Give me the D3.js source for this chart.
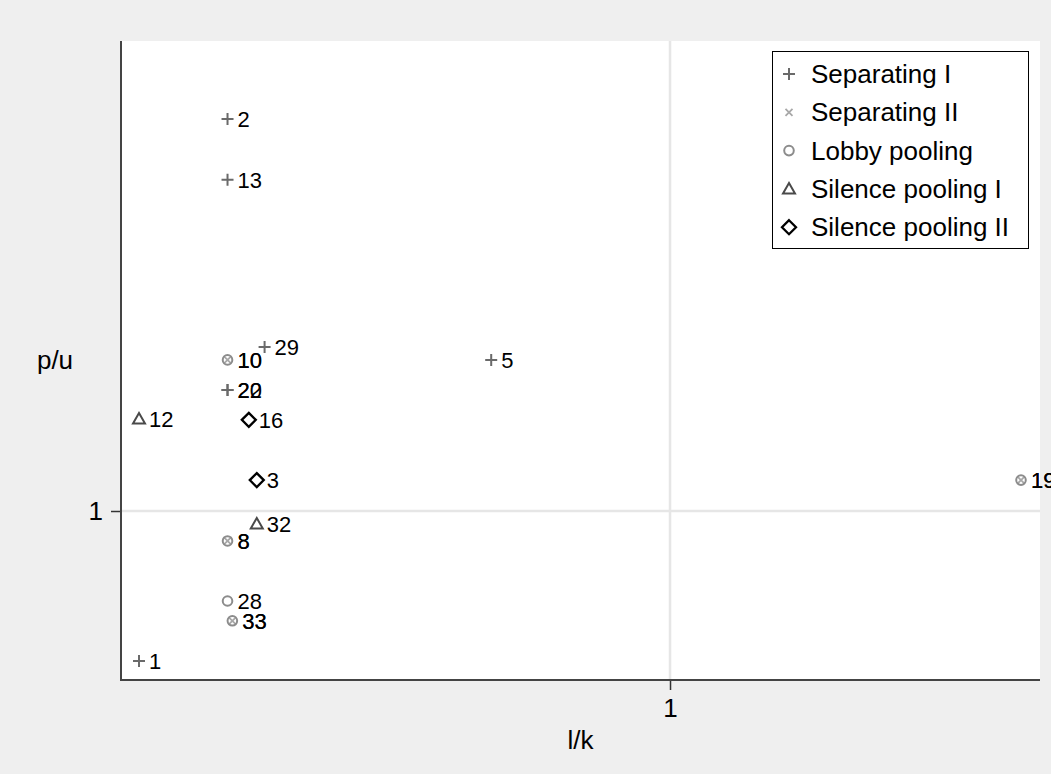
<!DOCTYPE html>
<html>
<head>
<meta charset="utf-8">
<script src="https://cdn.jsdelivr.net/npm/d3@7"></script>
<style>
  html, body { margin: 0; padding: 0; background: #efefef; }
  svg { display: block; font-family: "Liberation Sans", Arial, sans-serif; }
</style>
</head>
<body>
<svg id="chart" width="1051" height="774"></svg>
<script>
// Observations by equilibrium type: id label, l/k and p/u
const sepI_id = [2, 13, 29, 5, 20, 22, 1];
const sepI_x  = [0.315, 0.315, 0.347, 0.627, 0.315, 0.315, 0.25];
const sepI_y  = [3.80, 3.09, 1.748, 1.673, 1.51, 1.51, 0.60];

const sepII_id = [10, 19, 8, 33];
const sepII_x  = [0.315, 2.5, 0.315, 0.319];
const sepII_y  = [1.673, 1.111, 0.903, 0.688];

const lobby_id = [10, 19, 8, 28, 33];
const lobby_x  = [0.315, 2.5, 0.315, 0.315, 0.319];
const lobby_y  = [1.673, 1.111, 0.903, 0.736, 0.688];

const silI_id = [12, 32];
const silI_x  = [0.25, 0.340];
const silI_y  = [1.368, 0.957];

const silII_id = [16, 3];
const silII_x  = [0.333, 0.340];
const silII_y  = [1.364, 1.111];

const seriesNames = ["Separating I", "Separating II", "Lobby pooling", "Silence pooling I", "Silence pooling II"];
const xTicks = [1];
const yTicks = [1];

const svg = d3.select("#chart");
const plot = { left: 121, right: 1040, top: 41, bottom: 680 };
const inner = { left: 139, right: 1021, top: 119, bottom: 661 };
const bigFont = "26px";
const labelFont = "22px";

const allX = [].concat(sepI_x, sepII_x, lobby_x, silI_x, silII_x);
const allY = [].concat(sepI_y, sepII_y, lobby_y, silI_y, silII_y);

const x = d3.scaleLog().domain(d3.extent(allX)).range([inner.left, inner.right]);
const y = d3.scaleLog().domain(d3.extent(allY)).range([inner.bottom, inner.top]);

// plot region
svg.append("rect")
  .attr("x", plot.left).attr("y", plot.top)
  .attr("width", plot.right - plot.left).attr("height", plot.bottom - plot.top)
  .attr("fill", "#ffffff");

// grid lines
svg.append("g").selectAll("line").data(xTicks).join("line")
  .attr("x1", d => x(d)).attr("x2", d => x(d))
  .attr("y1", plot.top).attr("y2", plot.bottom)
  .attr("stroke", "#e6e6e6").attr("stroke-width", 2.5);
svg.append("g").selectAll("line").data(yTicks).join("line")
  .attr("x1", plot.left).attr("x2", plot.right)
  .attr("y1", d => y(d)).attr("y2", d => y(d))
  .attr("stroke", "#e6e6e6").attr("stroke-width", 2.5);

// axes
const xAxis = svg.append("g").attr("transform", `translate(0,${plot.bottom})`)
  .call(d3.axisBottom(x).tickValues(xTicks).tickFormat(d3.format("d")).tickSize(10).tickPadding(9));
const yAxis = svg.append("g").attr("transform", `translate(${plot.left},0)`)
  .call(d3.axisLeft(y).tickValues(yTicks).tickFormat(d3.format("d")).tickSize(10).tickPadding(8));
[xAxis, yAxis].forEach(g => {
  g.select(".domain").remove();
  g.selectAll(".tick line").attr("stroke", "#333").attr("stroke-width", 1.5);
  g.selectAll(".tick text").attr("fill", "#000").style("font-size", bigFont)
    .style("font-family", "'Liberation Sans', Arial, sans-serif");
});
svg.append("line").attr("x1", plot.left).attr("x2", plot.left)
  .attr("y1", plot.top).attr("y2", plot.bottom + 1)
  .attr("stroke", "#444").attr("stroke-width", 2);
svg.append("line").attr("x1", plot.left - 1).attr("x2", plot.right)
  .attr("y1", plot.bottom).attr("y2", plot.bottom)
  .attr("stroke", "#444").attr("stroke-width", 2);

// axis titles
svg.append("text").attr("x", (plot.left + plot.right) / 2).attr("y", 749)
  .attr("text-anchor", "middle").style("font-size", bigFont).text("l/k");
svg.append("text").attr("x", 55).attr("y", (plot.top + plot.bottom) / 2 + 8)
  .attr("text-anchor", "middle").style("font-size", bigFont).text("p/u");

// marker shapes
const markers = {
  plus: (g, c) => g.append("path").attr("d", "M-6,0H6M0,-6V6")
    .attr("stroke", c).attr("stroke-width", 2).attr("fill", "none"),
  cross: (g, c) => g.append("path").attr("d", "M-3.5,-3.5L3.5,3.5M-3.5,3.5L3.5,-3.5")
    .attr("stroke", c).attr("stroke-width", 1.8).attr("fill", "none"),
  circle: (g, c) => g.append("circle").attr("r", 4.8)
    .attr("stroke", c).attr("stroke-width", 2).attr("fill", "none"),
  triangle: (g, c) => g.append("path").attr("d", "M0,-6L6,4.5H-6Z")
    .attr("stroke", c).attr("stroke-width", 2).attr("fill", "none"),
  diamond: (g, c) => g.append("path").attr("d", "M0,-7L7,0L0,7L-7,0Z")
    .attr("stroke", c).attr("stroke-width", 2.3).attr("fill", "none")
};

const series = [
  { name: seriesNames[0], ids: sepI_id, xs: sepI_x, ys: sepI_y, shape: "plus", color: "#6a6a6a" },
  { name: seriesNames[1], ids: sepII_id, xs: sepII_x, ys: sepII_y, shape: "cross", color: "#a8a8a8" },
  { name: seriesNames[2], ids: lobby_id, xs: lobby_x, ys: lobby_y, shape: "circle", color: "#8c8c8c" },
  { name: seriesNames[3], ids: silI_id, xs: silI_x, ys: silI_y, shape: "triangle", color: "#4a4a4a" },
  { name: seriesNames[4], ids: silII_id, xs: silII_x, ys: silII_y, shape: "diamond", color: "#000000" }
];

// markers with their id labels to the right
const pts = svg.append("g");
series.forEach(s => {
  s.ids.forEach((id, i) => {
    const g = pts.append("g").attr("transform", `translate(${x(s.xs[i])},${y(s.ys[i])})`);
    markers[s.shape](g, s.color);
    g.append("text").attr("x", 10).attr("y", 8)
      .style("font-size", labelFont).attr("fill", "#000").text(id);
  });
});

// legend
const lg = svg.append("g");
lg.append("rect").attr("x", 772.5).attr("y", 51.5).attr("width", 256).attr("height", 197)
  .attr("fill", "#fff").attr("stroke", "#000").attr("stroke-width", 1);
series.forEach((s, i) => {
  const cy = 74 + i * 38.3;
  const g = lg.append("g").attr("transform", `translate(789,${cy})`);
  markers[s.shape](g, s.color);
  lg.append("text").attr("x", 811).attr("y", cy + 9)
    .style("font-size", bigFont).attr("fill", "#000").text(s.name);
});
</script>
</body>
</html>
